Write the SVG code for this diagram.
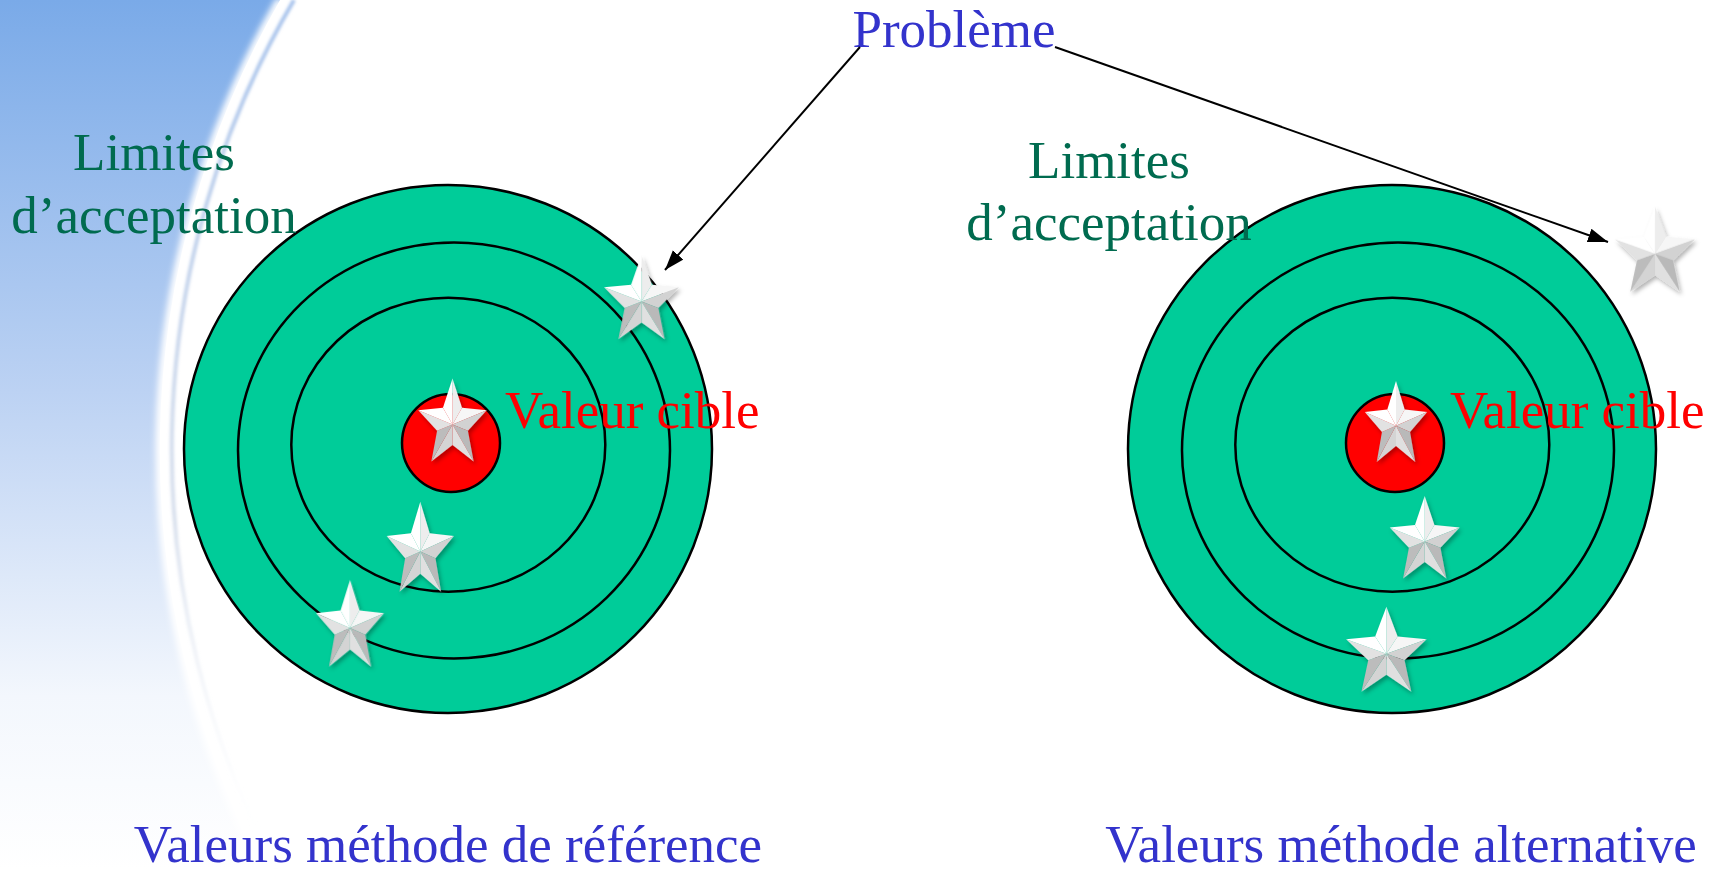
<svg xmlns="http://www.w3.org/2000/svg" width="1721" height="870" viewBox="0 0 1721 870">
  <style>
    .ring { fill: #00cc99; stroke: #000; stroke-width: 2.5; }
    .bull { fill: #ff0000; stroke: #000; stroke-width: 2.5; }
    .lbl { font-family: "Liberation Serif", "Times New Roman", serif; font-size: 53px; }
    .green { fill: #006b4f; }
    .blue { fill: #3333cc; }
    .red { fill: #ff0000; }
    .conn { stroke: #000; stroke-width: 2; fill: none; }
  </style>
  <defs>
    <linearGradient id="bgGrad" x1="0" y1="0" x2="0" y2="1">
      <stop offset="0" stop-color="#7aaae8"/>
      <stop offset="0.45" stop-color="#bcd2f3"/>
      <stop offset="0.8" stop-color="#f3f7fd"/>
      <stop offset="1" stop-color="#ffffff"/>
    </linearGradient>
    <linearGradient id="edgeGrad" x1="0" y1="0" x2="0" y2="1">
      <stop offset="0" stop-color="#9dbcea" stop-opacity="0.9"/>
      <stop offset="0.6" stop-color="#b8c6de" stop-opacity="0.55"/>
      <stop offset="1" stop-color="#ffffff" stop-opacity="0"/>
    </linearGradient>
    <filter id="blur3" x="-20%" y="-20%" width="140%" height="140%">
      <feGaussianBlur stdDeviation="3"/>
    </filter>
    <filter id="blur1" x="-20%" y="-20%" width="140%" height="140%">
      <feGaussianBlur stdDeviation="1.5"/>
    </filter>
    <filter id="shadow" x="-30%" y="-30%" width="160%" height="160%">
      <feDropShadow dx="2" dy="3" stdDeviation="2" flood-color="#000" flood-opacity="0.3"/>
    </filter>
    <marker id="arrow" markerUnits="userSpaceOnUse" markerWidth="22" markerHeight="16" refX="20" refY="7" orient="auto">
      <path d="M0,0 L20,7 L0,14 z" fill="#000"/>
    </marker>
    <g id="star">
      <polygon points="0,0 0,-40 10.58,-14.56" fill="#ededed"/>
      <polygon points="0,0 -10.58,-14.56 0,-40" fill="#ffffff"/>
      <polygon points="0,0 10.58,-14.56 38.04,-12.36" fill="#f6f6f6"/>
      <polygon points="0,0 38.04,-12.36 17.12,5.56" fill="#d2d2d2"/>
      <polygon points="0,0 17.12,5.56 23.51,32.36" fill="#b9b9b9"/>
      <polygon points="0,0 23.51,32.36 0,18" fill="#e0e0e0"/>
      <polygon points="0,0 0,18 -23.51,32.36" fill="#d4d4d4"/>
      <polygon points="0,0 -23.51,32.36 -17.12,5.56" fill="#bcbcbc"/>
      <polygon points="0,0 -17.12,5.56 -38.04,-12.36" fill="#e2e2e2"/>
      <polygon points="0,0 -38.04,-12.36 -10.58,-14.56" fill="#ffffff"/>
    </g>
  </defs>

  <!-- background swoosh -->
  <g id="background">
    <rect x="0" y="0" width="1721" height="870" fill="#ffffff"/>
    <path d="M0,0 L280,0 A904,904 0 0 0 263,870 L0,870 Z" fill="url(#bgGrad)"/>
    <path d="M281,0 A903,903 0 0 0 264,870" fill="none" stroke="#ffffff" stroke-width="10" filter="url(#blur3)"/>
    <path d="M294,0 A890,890 0 0 0 277,870" fill="none" stroke="url(#edgeGrad)" stroke-width="4" filter="url(#blur1)"/>
  </g>

  <!-- target: reference method -->
  <g id="target-ref">
    <circle class="ring" cx="448" cy="449" r="264"/>
    <ellipse class="ring" cx="454" cy="450.5" rx="216" ry="208"/>
    <ellipse class="ring" cx="448.3" cy="444.7" rx="157" ry="147"/>
    <circle class="bull" cx="451" cy="443" r="49"/>
  </g>

  <!-- target: alternative method -->
  <g id="target-alt">
    <circle class="ring" cx="1392" cy="449" r="264"/>
    <ellipse class="ring" cx="1398" cy="450.5" rx="216" ry="208"/>
    <ellipse class="ring" cx="1392.3" cy="444.7" rx="157" ry="147"/>
    <circle class="bull" cx="1395" cy="443" r="49"/>
  </g>

  <!-- stars -->
  <g id="stars-ref" filter="url(#shadow)">
    <use href="#star" transform="translate(452.5,424.4) scale(0.90,1.15)"/>
    <use href="#star" transform="translate(641.5,301.6) scale(0.985,1.165)"/>
    <use href="#star" transform="translate(420.3,551.4) scale(0.885,1.244)"/>
    <use href="#star" transform="translate(350,627.9) scale(0.894,1.2)"/>
  </g>
  <g id="stars-alt" filter="url(#shadow)">
    <use href="#star" transform="translate(1396,425.8) scale(0.82,1.12)"/>
    <use href="#star" transform="translate(1424.7,541.5) scale(0.92,1.14)"/>
    <use href="#star" transform="translate(1386.4,653.7) scale(1.06,1.175)"/>
    <use href="#star" transform="translate(1655,253.7) scale(1.05,1.175)"/>
  </g>

  <!-- labels -->
  <g id="label-limites-ref">
    <text class="lbl green" x="154" y="170" text-anchor="middle">Limites</text>
    <text class="lbl green" x="154" y="233" text-anchor="middle">d’acceptation</text>
  </g>
  <g id="label-limites-alt">
    <text class="lbl green" x="1109" y="178" text-anchor="middle">Limites</text>
    <text class="lbl green" x="1109" y="240" text-anchor="middle">d’acceptation</text>
  </g>
  <g id="label-cible-ref">
    <text class="lbl red" x="505" y="428">Valeur cible</text>
  </g>
  <g id="label-cible-alt">
    <text class="lbl red" x="1450" y="428">Valeur cible</text>
  </g>
  <g id="label-probleme">
    <text class="lbl blue" x="954" y="47" text-anchor="middle">Problème</text>
  </g>
  <g id="label-methods">
    <text class="lbl blue" x="448" y="862" text-anchor="middle">Valeurs méthode de référence</text>
    <text class="lbl blue" x="1401" y="862" text-anchor="middle">Valeurs méthode alternative</text>
  </g>

  <!-- connectors -->
  <g id="connectors">
    <line class="conn" x1="860" y1="47" x2="665" y2="270" marker-end="url(#arrow)"/>
    <line class="conn" x1="1055" y1="47" x2="1608" y2="242" marker-end="url(#arrow)"/>
  </g>
</svg>
